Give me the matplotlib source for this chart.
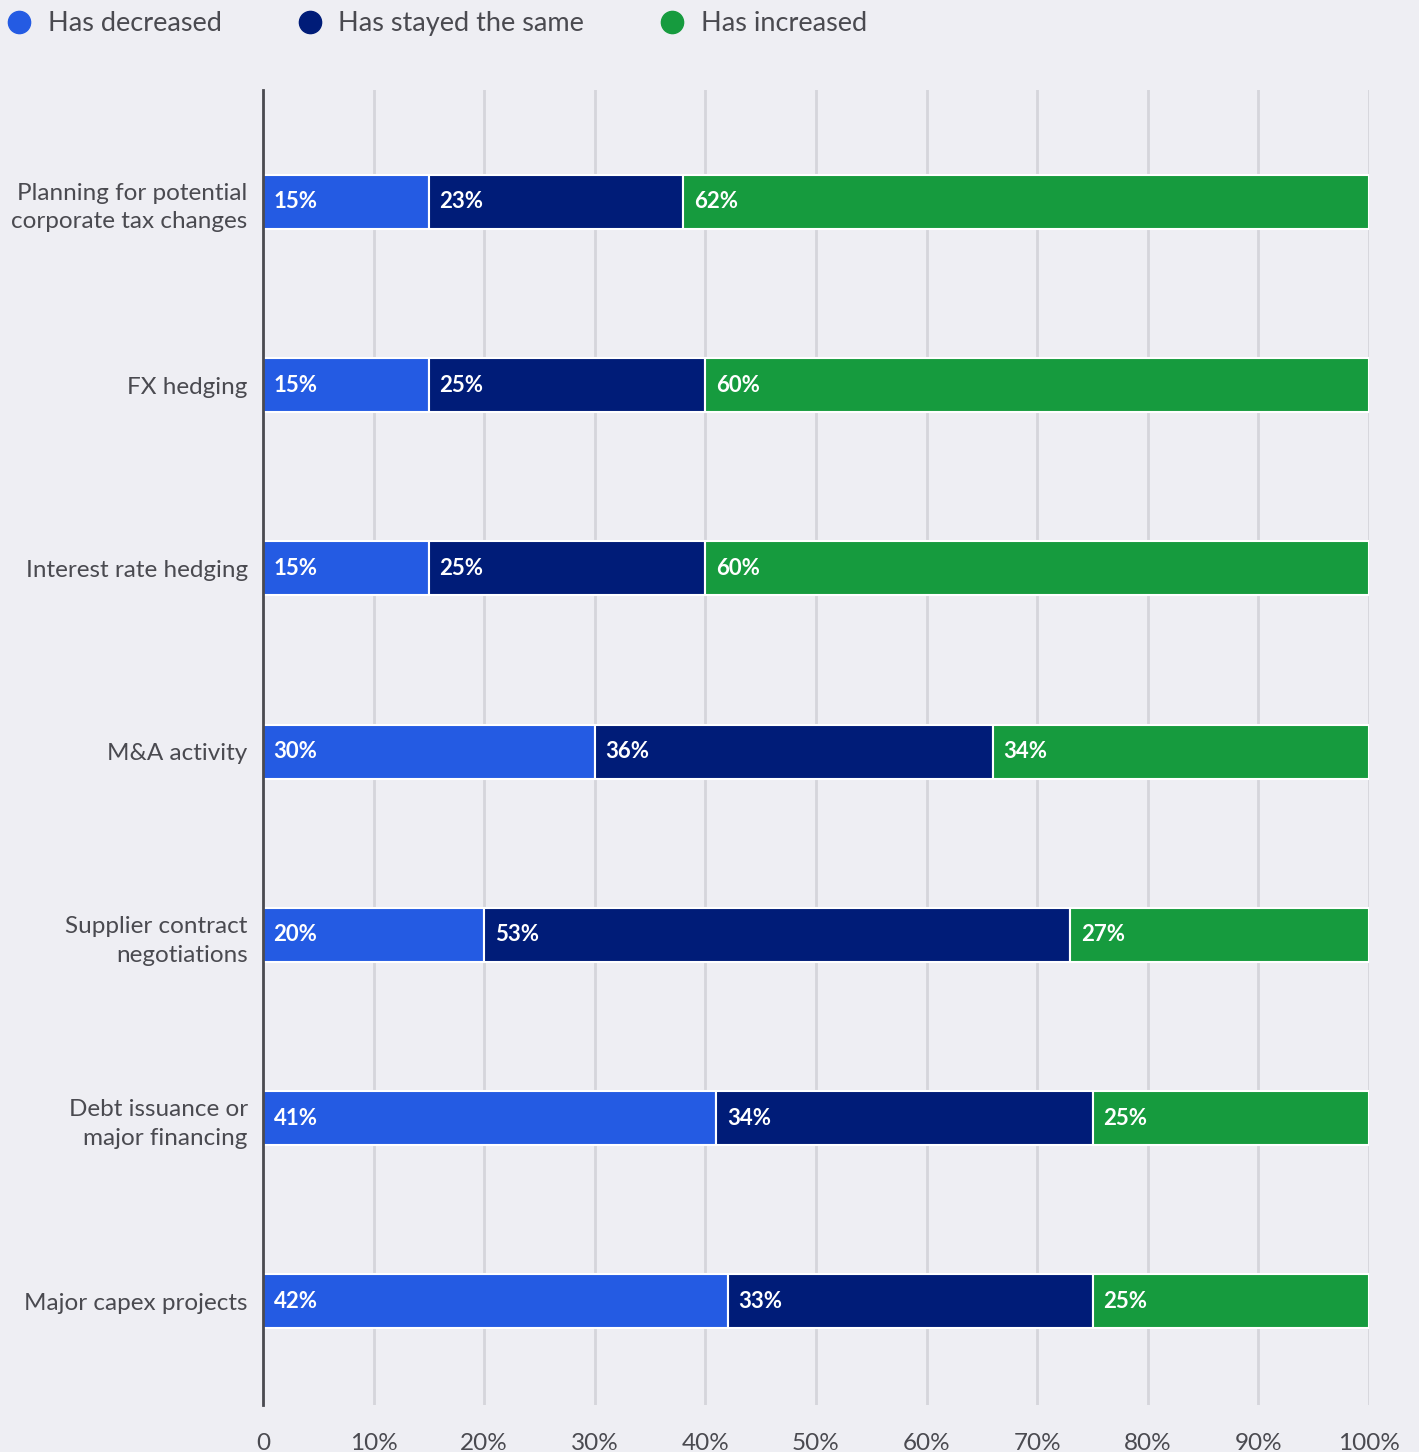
import matplotlib.pyplot as plt
from matplotlib.lines import Line2D
import numpy as np

# survey answers, share of respondents per activity
activities = ["Planning for potential\ncorporate tax changes", "FX hedging",
              "Interest rate hedging", "M&A activity",
              "Supplier contract\nnegotiations", "Debt issuance or\nmajor financing",
              "Major capex projects"]
decreased = [15, 15, 15, 30, 20, 41, 42]
same = [23, 25, 25, 36, 53, 34, 33]
increased = [62, 60, 60, 34, 27, 25, 25]

series_names = ["Has decreased", "Has stayed the same", "Has increased"]
colors = ["#245BE3", "#001C78", "#169B3E"]
bg = "#EEEEF3"
txt = "#4A4A50"

plt.rcParams['font.family'] = ['Lato', 'DejaVu Sans']

fig = plt.figure(figsize=(14.19, 14.52), dpi=100, facecolor=bg)
ax = fig.add_axes([263/1419, 1 - 1405/1452, (1369-263)/1419, (1405-90)/1452])
ax.set_facecolor(bg)

y = np.arange(len(activities))
left = np.zeros(len(activities))
for vals, col in zip([decreased, same, increased], colors):
    vals = np.array(vals, dtype=float)
    ax.barh(y, vals, left=left, height=0.295, color=col, edgecolor="white",
            linewidth=1.5, zorder=3)
    for yi, l, v in zip(y, left, vals):
        ax.text(l + 0.95, yi, "%d%%" % v, color="white", fontsize=16,
                fontweight="bold", va="center", ha="left", zorder=4)
    left += vals

ax.set_ylim(len(activities) - 1 + 0.565, -0.61)
ax.set_xlim(0, 100)
ax.set_yticks(y)
ax.set_yticklabels(activities, fontsize=17.5, color=txt, linespacing=1.45)
ax.set_xticks(np.arange(0, 101, 10))
ax.set_xticklabels(["0"] + ["%d%%" % v for v in range(10, 101, 10)],
                   fontsize=17.5, color=txt)
ax.tick_params(axis="both", length=0)
ax.tick_params(axis="x", pad=20)
ax.tick_params(axis="y", pad=11)
ax.grid(axis="x", color="#D5D5DB", linewidth=2, zorder=0)
for s in ["top", "right", "bottom"]:
    ax.spines[s].set_visible(False)
ax.spines["left"].set_color("#4A4A50")
ax.spines["left"].set_linewidth(2)
ax.spines["left"].set_zorder(5)

handles = [Line2D([], [], marker="o", linestyle="none", markersize=16,
                  markerfacecolor=c, markeredgecolor=c) for c in colors]
fig.legend(handles, series_names, loc="upper left", bbox_to_anchor=(-0.013, 1.009),
           ncol=3, frameon=False, fontsize=19.5, labelcolor=txt,
           handletextpad=0.55, columnspacing=2.75, handlelength=1.0)

fig.savefig("out.png", dpi=100, facecolor=bg)
